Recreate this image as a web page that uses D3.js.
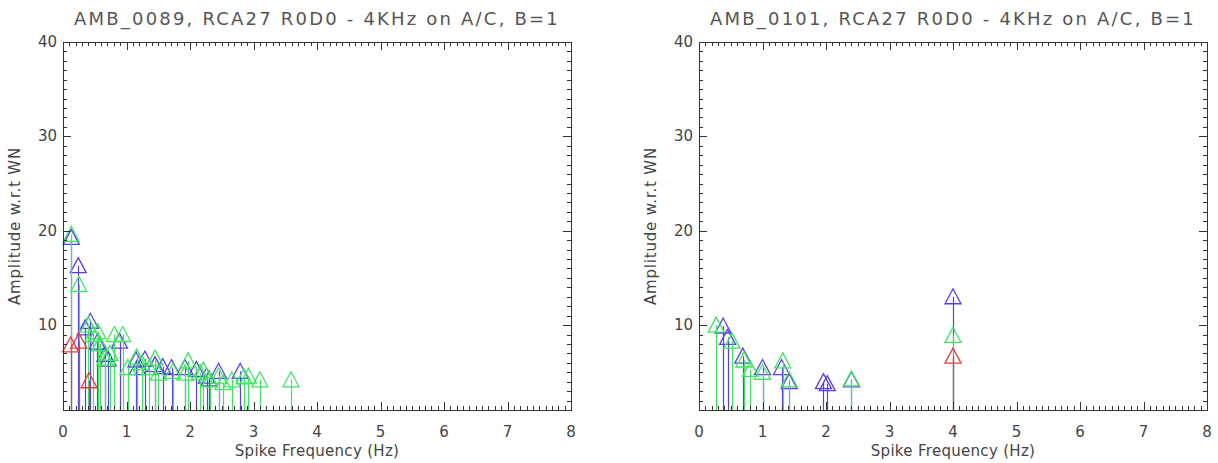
<!DOCTYPE html>
<html><head><meta charset="utf-8">
<script src="https://cdn.jsdelivr.net/npm/d3@7"></script>
<style>body{margin:0;background:#fff}svg{display:block}text{font-family:"DejaVu Sans",sans-serif;fill:#444}</style>
</head><body><svg id="c" width="1218" height="463"></svg>
<script>
const titles = ["AMB_0089, RCA27 R0D0 - 4KHz on A/C, B=1", "AMB_0101, RCA27 R0D0 - 4KHz on A/C, B=1"];
const xLabel = "Spike Frequency (Hz)";
const yLabel = "Amplitude w.r.t WN";
const xTicks = [0,1,2,3,4,5,6,7,8];
const yTicks = [10,20,30,40];
const seriesNames = ["blue","green","red"];
const seriesColors = ["#5a3cf0","#3ee660","#ee3a3a"];

// left panel [frequency, amplitude]
const leftBlue = [[0.13,19.3],[0.24,16.3],[0.35,9.7],[0.43,10.4],[0.54,8.2],[0.66,6.9],[0.71,6.4],[0.89,8.3],[1.15,6.3],[1.17,5.5],[1.29,6.4],[1.45,5.8],[1.57,5.6],[1.71,5.5],[1.92,5.5],[2.10,5.3],[2.26,4.6],[2.30,4.3],[2.45,5.1],[2.79,5.1]];
const leftGreen = [[0.13,19.6],[0.25,14.3],[0.40,10.0],[0.47,9.0],[0.55,9.3],[0.58,8.0],[0.66,6.5],[0.74,7.0],[0.81,9.0],[0.94,9.0],[1.02,5.5],[1.16,6.6],[1.24,6.0],[1.36,5.5],[1.45,6.5],[1.50,4.9],[1.73,5.1],[1.92,4.9],[1.97,6.2],[2.16,4.95],[2.21,5.2],[2.31,4.2],[2.45,4.6],[2.52,3.9],[2.66,4.2],[2.85,4.5],[2.92,4.6],[3.10,4.2],[3.59,4.2]];
const leftRed = [[0.12,7.9],[0.25,8.3],[0.41,4.1]];

// right panel
const rightBlue = [[0.38,9.9],[0.45,8.7],[0.69,6.7],[1.00,5.5],[1.30,5.5],[1.42,4.0],[1.96,4.0],[2.02,3.8],[2.40,4.2],[4.00,13.0]];
const rightGreen = [[0.27,10.0],[0.52,8.3],[0.71,6.3],[0.81,5.3],[1.00,5.0],[1.32,6.2],[1.42,4.2],[2.40,4.3],[4.00,8.9]];
const rightRed = [[4.00,6.7]];

const panels = [
  {x0:63, x1:571, title:titles[0], series:[leftBlue,leftGreen,leftRed]},
  {x0:699, x1:1207, title:titles[1], series:[rightBlue,rightGreen,rightRed]}
];
const yTop = 42, yBot = 410;
const svg = d3.select("#c");
const axisCol = "#333";

panels.forEach(p => {
  const x = d3.scaleLinear().domain([0,8]).range([p.x0,p.x1]);
  const y = d3.scaleLinear().domain([1,40]).range([yBot,yTop]);
  const g = svg.append("g");

  // series
  p.series.forEach((data, si) => {
    const col = seriesColors[si];
    const sg = g.append("g");
    sg.selectAll("line.stem").data(data).join("line")
      .attr("x1", d => Math.round(x(d[0]))+0.5).attr("x2", d => Math.round(x(d[0]))+0.5)
      .attr("y1", y(1)).attr("y2", d => y(d[1]))
      .attr("stroke", col).attr("stroke-width", 1.2);
    sg.selectAll("path.tri").data(data).join("path")
      .attr("d", d => {const cx=x(d[0]), cy=y(d[1]); return `M${cx-8},${cy+7}L${cx+8},${cy+7}L${cx},${cy-8}Z`;})
      .attr("fill","none").attr("stroke", col).attr("stroke-width", 1.3);
  });

  // box
  g.append("rect").attr("x",p.x0+0.5).attr("y",yTop+0.5).attr("width",p.x1-p.x0).attr("height",yBot-yTop)
    .attr("fill","none").attr("stroke",axisCol).attr("stroke-width",1);

  // x ticks (bottom & top)
  const xMinor = d3.range(0,80.5,1).map(v=>v/10);
  const xt = g.append("g");
  xMinor.forEach(v => {
    const major = Math.abs(v-Math.round(v))<1e-9;
    const len = major ? 8 : 4;
    const px = Math.round(x(v))+0.5;
    xt.append("line").attr("x1",px).attr("x2",px).attr("y1",yBot).attr("y2",yBot-len).attr("stroke",axisCol);
    xt.append("line").attr("x1",px).attr("x2",px).attr("y1",yTop).attr("y2",yTop+len).attr("stroke",axisCol);
  });
  xt.selectAll("text").data(xTicks).join("text")
    .attr("x", d=>x(d)).attr("y", 437).attr("text-anchor","middle").attr("font-size",15).text(d=>d);

  // y ticks (left & right)
  const yMinor = d3.range(1,41,1);
  const yt = g.append("g");
  yMinor.forEach(v => {
    const major = v%10===0;
    const len = major ? 8 : 4;
    const py = Math.round(y(v))+0.5;
    yt.append("line").attr("x1",p.x0).attr("x2",p.x0+len).attr("y1",py).attr("y2",py).attr("stroke",axisCol);
    yt.append("line").attr("x1",p.x1).attr("x2",p.x1-len).attr("y1",py).attr("y2",py).attr("stroke",axisCol);
  });
  yt.selectAll("text").data(yTicks).join("text")
    .attr("x", p.x0-6).attr("y", d=>y(d)+5).attr("text-anchor","end").attr("font-size",15).text(d=>d);

  // labels
  g.append("text").attr("x",(p.x0+p.x1)/2).attr("y",25).attr("text-anchor","middle")
    .attr("font-size",18).attr("letter-spacing",2.2).style("fill","#555").text(p.title);
  g.append("text").attr("x",(p.x0+p.x1)/2).attr("y",456).attr("text-anchor","middle")
    .attr("font-size",15).attr("letter-spacing",0.3).text(xLabel);
  g.append("text").attr("transform",`translate(${p.x0-43},${(yTop+yBot)/2}) rotate(-90)`)
    .attr("text-anchor","middle").attr("font-size",15).attr("letter-spacing",0.8).text(yLabel);
});
</script></body></html>
